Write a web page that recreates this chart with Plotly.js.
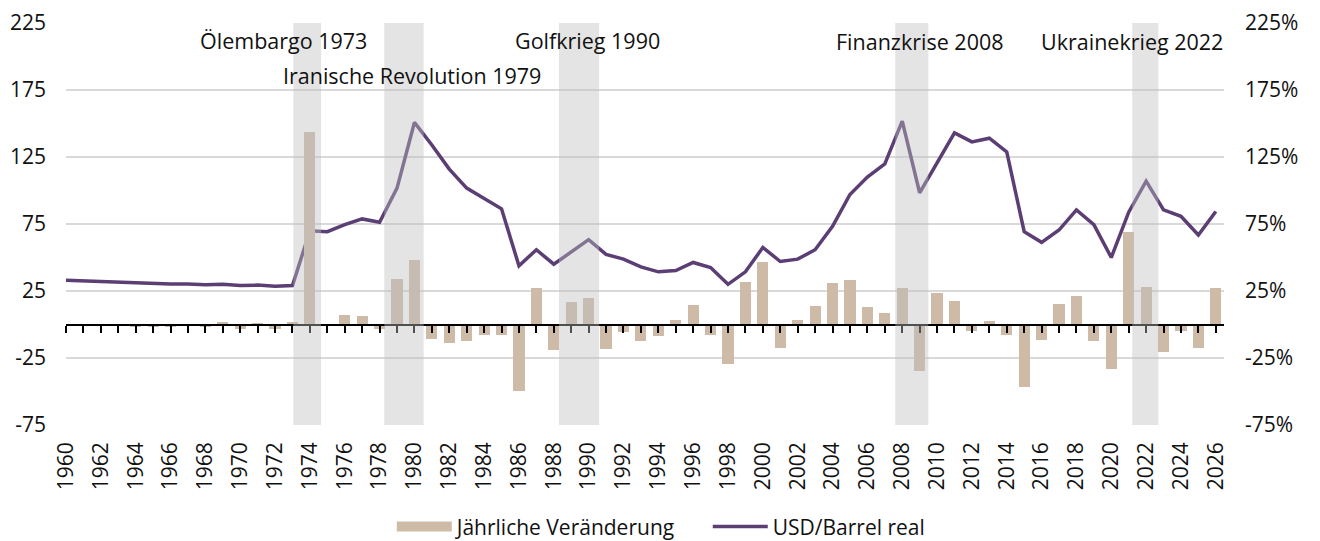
<!DOCTYPE html>
<html>
<head>
<meta charset="utf-8">
<script src="https://cdn.plot.ly/plotly-3.0.1.min.js"></script>
<style>
  html, body { margin: 0; padding: 0; background: #ffffff; }
  #chart { width: 1320px; height: 541px; }
</style>
</head>
<body>
<div id="chart"></div>
<script>
// ---- Data ----
const years = [];
for (let y = 1960; y <= 2026; y++) years.push(y);

const priceReal = [
  33.1, 32.6, 32.3, 32.1, 31.6, 31.1, 30.3, 30.3, 29.6, 30.1,
  29.1, 29.4, 28.6, 29.1, 70.0, 69.3, 74.5, 78.8, 76.3, 101.8,
  150.8, 134.0, 116.0, 101.8, 93.8, 86.3, 43.8, 55.8, 45.0, 53.8,
  63.3, 52.3, 48.8, 43.0, 39.3, 40.3, 46.3, 42.5, 30.0, 39.3,
  57.5, 47.0, 48.8, 55.8, 73.3, 97.0, 110.0, 119.8, 151.8, 98.3,
  121.3, 143.0, 136.3, 139.0, 128.8, 69.3, 61.3, 70.5, 85.5, 74.5,
  50.0, 83.8, 107.0, 85.5, 80.8, 66.8, 84.3
];

const annualChange = [
  null, -0.5, -0.5, -1.0, -1.5, -1.5, -1.5, -0.5, -2.0, 1.5,
  -3.5, 1.0, -3.0, 2.0, 143.3, -1.0, 6.8, 6.0, -3.3, 34.3,
  48.5, -10.8, -13.8, -12.0, -7.8, -7.8, -49.3, 27.3, -19.0, 17.0,
  20.0, -18.0, -5.5, -12.5, -8.3, 3.0, 14.3, -8.0, -29.5, 31.8,
  46.3, -17.5, 3.5, 13.8, 31.3, 33.5, 13.3, 8.8, 27.0, -35.0,
  23.5, 17.3, -4.8, 2.3, -7.8, -46.3, -11.3, 15.0, 21.5, -12.5,
  -33.3, 69.0, 28.3, -20.8, -4.8, -17.3, 27.3
];

const eventLabels = ['Ölembargo 1973', 'Iranische Revolution 1979', 'Golfkrieg 1990', 'Finanzkrise 2008', 'Ukrainekrieg 2022'];
const eventStart = [1973.05, 1978.27, 1988.3, 2007.6, 2021.2];
const eventEnd   = [1974.64, 1980.53, 1990.6, 2009.5, 2022.7];

const yTickVals = [-75, -25, 25, 75, 125, 175, 225];
const xTickVals = years.filter(y => y % 2 === 0);

const seriesNames = ['Jährliche Veränderung', 'USD/Barrel real'];

// ---- Styles ----
const FONT = 'Open Sans, Noto Sans, sans-serif';
const LINE_COLOR = '#5b3e74';
const BAR_COLOR = '#cdbba8';
const RANGE_X = [1960, 2026.47];
const RANGE_Y = [-75, 225];

// label positions (layout only)
const labelX = [1972.49, 1979.88, 1989.93, 2009.04, 2021.2];
const labelY = [0.957, 0.870, 0.957, 0.955, 0.955];

const traces = [
  {
    type: 'bar', x: years, y: annualChange, name: seriesNames[0],
    xaxis: 'x2', yaxis: 'y2', width: 0.64,
    marker: { color: BAR_COLOR, line: { width: 0 } },
    showlegend: false, hoverinfo: 'x+y'
  },
  {
    // legend entry for the bars (wide swatch as in the original)
    type: 'scatter', mode: 'lines', x: [null], y: [null], name: seriesNames[0],
    line: { color: BAR_COLOR, width: 13 }, showlegend: true, hoverinfo: 'skip'
  },
  {
    type: 'scatter', mode: 'lines', x: years, y: priceReal, name: seriesNames[1],
    xaxis: 'x', yaxis: 'y',
    line: { color: LINE_COLOR, width: 3.5 }
  }
];

const shapes = eventStart.map((s, i) => ({
  type: 'rect', xref: 'x', yref: 'paper',
  x0: s, x1: eventEnd[i], y0: 0, y1: 1,
  fillcolor: '#bfbfbf', opacity: 0.42, line: { width: 0 }, layer: 'above'
}));

const annotations = eventLabels.map((t, i) => ({
  text: t, xref: 'x', yref: 'paper', x: labelX[i], y: labelY[i],
  xanchor: 'center', yanchor: 'middle', showarrow: false,
  font: { family: FONT, size: 21.5, color: '#111111' }
}));

const layout = {
  width: 1320, height: 541,
  margin: { l: 66, r: 96, t: 23, b: 116, autoexpand: false },
  paper_bgcolor: '#ffffff', plot_bgcolor: '#ffffff',
  font: { family: FONT, size: 21, color: '#111111' },
  bargap: 0,
  xaxis: {
    range: RANGE_X, tickvals: xTickVals, ticktext: xTickVals.map(String),
    tickangle: -90, showgrid: false, zeroline: false, showline: false, ticks: '',
    ticklabelstandoff: 12, tickfont: { family: FONT, size: 21, color: '#111111' },
    fixedrange: true, automargin: false
  },
  xaxis2: {
    range: RANGE_X, overlaying: 'x', anchor: 'free', position: 0.25, side: 'bottom',
    showline: true, linecolor: '#000000', linewidth: 2,
    ticks: 'outside', ticklen: 7, tickwidth: 2, tickcolor: '#000000',
    tick0: 1960, dtick: 1, showticklabels: false, showgrid: false, zeroline: false,
    automargin: false
  },
  yaxis: {
    range: RANGE_Y, tickvals: yTickVals, ticktext: yTickVals.map(String),
    showgrid: true, gridcolor: '#d9d9d9', gridwidth: 1.5,
    zeroline: false, showline: false, ticks: '', ticklabelstandoff: 19,
    tickfont: { family: FONT, size: 21, color: '#111111' }, automargin: false
  },
  yaxis2: {
    range: RANGE_Y, overlaying: 'y', side: 'right', anchor: 'x2',
    tickvals: yTickVals, ticktext: yTickVals.map(v => v + '%'),
    showgrid: false, zeroline: false, showline: false, ticks: '', ticklabelstandoff: 20,
    tickfont: { family: FONT, size: 21, color: '#111111' }, automargin: false
  },
  legend: {
    orientation: 'h', xref: 'container', yref: 'container',
    x: 0.2968, xanchor: 'left', y: 0.064, yanchor: 'top',
    font: { family: FONT, size: 21, color: '#111111' },
    itemwidth: 55, entrywidth: 246, entrywidthmode: 'pixels',
    traceorder: 'normal', bgcolor: 'rgba(0,0,0,0)'
  },
  shapes: shapes,
  annotations: annotations,
  showlegend: true
};

Plotly.newPlot('chart', traces, layout, { displayModeBar: false, staticPlot: true });
</script>
</body>
</html>
